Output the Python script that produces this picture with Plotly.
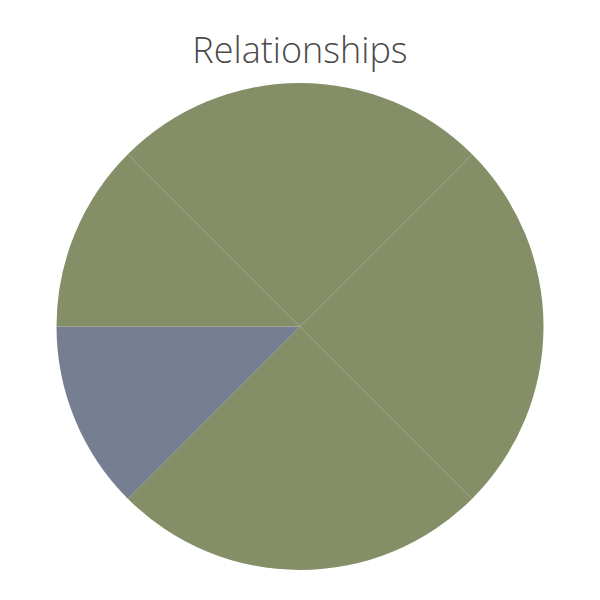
import plotly.graph_objects as go

labels = ["Slice A", "Slice B", "Slice C", "Slice D", "Slice E"]
values = [2, 2, 2, 1, 1]
colors = ["#848F67", "#848F67", "#848F67", "#757F91", "#848F67"]

fig = go.Figure(go.Pie(
    labels=labels,
    values=values,
    sort=False,
    direction="clockwise",
    rotation=-45,
    marker=dict(colors=colors, line=dict(width=0)),
    textinfo="none",
    showlegend=False,
))

fig.update_layout(
    width=600, height=600,
    title=dict(text="Relationships", x=292 / 600, xanchor="center", y=0.93, yanchor="middle",
               font=dict(family="Open Sans, sans-serif", size=36, color="#4a4a4a", weight=300)),
    margin=dict(l=0, r=16, t=75, b=38),
    paper_bgcolor="white",
)

fig.write_html("out.html")
